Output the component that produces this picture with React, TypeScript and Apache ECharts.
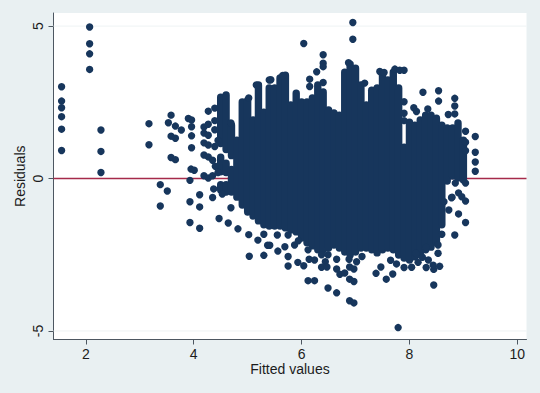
import React, { useEffect, useRef } from "react";
import * as echarts from "echarts";

const xTicks = [2, 4, 6, 8, 10];
const yTicks = [-5, 0, 5];
const gridLevels = [-5, 5];

// Separate points: [fitted, residual]
const leftPoints = [
  [1.55, 3.01], [1.55, 2.54], [1.55, 2.32], [1.55, 2.03], [1.55, 1.62], [1.55, 0.92],
  [2.07, 4.97], [2.07, 4.42], [2.07, 4.09], [2.07, 3.58],
  [2.28, 1.59], [2.28, 0.89], [2.28, 0.2],
  [3.17, 1.8], [3.17, 1.11], [3.38, -0.2], [3.38, -0.9], [3.51, -0.41],
  [3.58, 2.08], [3.53, 1.83], [3.66, 1.72], [3.77, 1.59], [3.58, 1.39], [3.66, 1.32],
  [3.58, 0.69], [3.66, 0.62], [3.9, 1.97], [3.96, 1.92], [3.96, 1.7], [3.96, 1.4], [3.96, 1.01],
  [3.95, 0.31], [4.01, 0.27], [3.93, -0.06], [4.11, -0.53], [3.93, -0.76], [4.11, -0.93],
  [3.93, -1.44], [4.11, -1.63], [4.19, 0.09], [4.27, 0.02], [4.35, 0.09], [4.37, -0.34],
  [4.35, -0.62], [4.47, -1.31], [4.64, -1.46], [4.82, -1.65], [4.69, -0.96], [4.53, -0.51],
  [4.19, 1.69], [4.27, 1.78], [4.19, 1.49], [4.27, 1.42], [4.19, 1.17], [4.27, 1.1],
  [4.19, 0.77], [4.27, 0.71], [4.39, 1.05], [4.35, 0.6], [4.4, 0.4], [4.27, 2.21], [4.39, 2.31],
  [4.39, 1.6], [4.39, 1.9], [4.45, 0.2], [4.45, 1.25], [4.69, 1.82],
];
const topPoints = [
  [6.95, 5.12], [6.95, 4.57], [6.04, 4.43], [6.4, 4.06], [6.4, 3.78], [6.4, 3.67],
  [5.02, 2.64], [5.16, 3.07], [5.4, 3.23], [5.43, 3.24], [5.65, 3.38], [6.15, 3.26], [6.15, 3.02],
  [6.28, 3.5], [6.4, 3.15], [6.87, 3.8], [7.17, 3.13], [7.45, 3.51], [7.53, 3.48],
  [7.73, 3.59], [7.82, 3.55], [7.9, 3.55], [7.9, 2.52], [7.9, 2.14], [7.9, 1.9],
  [8.08, 2.32], [8.13, 2.2], [8.25, 2.83], [8.34, 2.28], [8.54, 2.88], [8.54, 2.54],
  [8.84, 2.63], [8.84, 2.38], [8.84, 2.12], [8.72, 2.1],
];
const rightPoints = [
  [9.22, 1.38], [9.22, 0.86], [9.22, 0.54], [9.22, 0.24], [9.04, 1.55], [9.04, 1.19], [9.04, 0.91],
  [9.04, -0.15], [8.85, -0.15], [8.91, -0.47], [8.97, -0.6], [8.79, -0.61], [9.04, -0.74],
  [8.91, -1.16], [8.78, -0.63], [8.73, -1.03], [8.64, -0.76], [9.04, -1.44], [8.84, -1.85], [8.6, -1.83],
];
const bottomPoints = [
  [5.02, -1.84], [5.19, -2.02], [5.03, -2.55], [5.3, -2.52], [5.37, -2.19], [5.3, -1.83],
  [5.41, -2.19], [5.55, -1.85], [5.69, -2.24], [5.75, -1.85], [5.87, -2.18], [5.94, -2.04], [6.12, -2.34],
  [5.56, -2.38], [5.75, -2.56], [5.75, -2.87], [5.93, -2.75], [6.04, -2.86], [6.14, -2.65], [6.24, -2.67],
  [6.37, -2.5], [6.49, -2.5], [6.44, -2.73], [6.37, -2.91], [6.47, -2.9], [6.65, -2.65], [6.65, -2.97],
  [6.71, -3.14], [6.8, -3.1], [6.89, -2.9], [6.97, -2.97], [6.88, -2.65], [7.02, -2.73], [7.12, -2.56],
  [6.12, -3.35], [6.24, -3.35], [6.49, -3.59], [6.65, -3.75], [6.89, -3.3], [6.97, -3.38],
  [6.89, -4.01], [6.97, -4.08], [7.38, -3.11], [7.47, -2.9], [7.57, -3.3], [7.69, -3.13],
  [7.65, -2.68], [7.76, -2.8], [7.9, -2.92], [8.04, -2.91], [8.16, -2.75], [8.24, -2.58],
  [8.35, -2.67], [8.31, -2.92], [8.45, -2.98], [8.44, -2.84], [8.56, -2.88], [8.53, -2.45],
  [8.53, -2.18], [8.12, -2.45], [8.31, -2.26], [8.45, -3.49], [7.79, -4.89],
];

// Solid mass of overlapping points, column by column: [fitted, lowest, highest]
const massColumns = [
  [4.5, 1.15, 2.67], [4.5, 0.22, 0.7], [4.5, -0.38, -0.2],
  [4.6, 0.95, 2.74], [4.6, 0.2, 0.5], [4.6, -0.44, -0.2],
  [4.7, 0.75, 1.75], [4.7, -0.44, 0.3], [4.8, -0.61, 1.26],
  [4.9, -0.87, 2.51], [5.0, -1.1, 2.57], [5.1, -1.23, 1.92], [5.2, -1.39, 3.07],
  [5.3, -1.52, 2.18], [5.4, -1.56, 2.97], [5.5, -1.56, 2.97], [5.6, -1.56, 3.3],
  [5.7, -1.62, 3.39], [5.8, -1.69, 2.41], [5.9, -1.75, 2.8], [6.0, -1.95, 2.51],
  [6.1, -2.11, 2.51], [6.2, -2.21, 2.64], [6.3, -2.34, 3.07], [6.4, -2.34, 2.84],
  [6.5, -2.28, 2.25], [6.6, -2.18, 2.15], [6.7, -2.28, 2.08], [6.8, -2.41, 3.49],
  [6.9, -2.51, 3.75], [7.0, -2.41, 3.62], [7.1, -2.28, 3.07], [7.2, -2.28, 2.41],
  [7.3, -2.34, 2.9], [7.4, -2.44, 2.97], [7.5, -2.34, 3.39], [7.6, -2.28, 3.23],
  [7.7, -2.34, 3.49], [7.8, -2.51, 2.97], [7.9, -2.61, 1.03], [8.0, -2.67, 1.85],
  [8.1, -2.57, 1.75], [8.2, -2.51, 1.92], [8.3, -2.34, 2.08], [8.4, -2.25, 2.08],
  [8.5, -2.11, 1.98], [8.6, -1.52, 1.75], [8.7, -0.08, 1.66], [8.8, 0.08, 1.66],
  [8.9, 0.02, 1.82], [9.0, -0.05, 1.26],
];

const NAVY = "#17365c";
const MAROON = "#a52a4a";
const BG = "#e9f0f2";
const AXIS = "#4d5761";
const INK = "#1c1c1c";
const FONT = "'Liberation Sans', Arial, sans-serif";
const DOT = 7.4;

export default function App() {
  const ref = useRef<HTMLDivElement>(null);
  useEffect(() => {
    const chart = echarts.init(ref.current!, undefined, { renderer: "svg" });
    const axisCommon = {
      axisLine: { show: true, onZero: false, lineStyle: { color: AXIS, width: 1 } },
      splitLine: { show: false },
      nameLocation: "middle" as const,
      nameMoveOverlap: false,
    };
    chart.setOption({
      animation: false,
      backgroundColor: BG,
      grid: { left: 53.5, top: 13, width: 473, height: 326.5, backgroundColor: "#ffffff", show: true, borderWidth: 0 },
      xAxis: {
        ...axisCommon,
        type: "value",
        min: 1.4,
        max: 10.17,
        name: "Fitted values",
        nameGap: 22,
        nameTextStyle: { color: INK, fontSize: 14, fontFamily: FONT },
        axisTick: { show: true, length: 5, lineStyle: { color: AXIS }, customValues: xTicks },
        axisLabel: { color: INK, fontSize: 14, fontFamily: FONT, margin: 7, customValues: xTicks },
      },
      yAxis: {
        ...axisCommon,
        type: "value",
        min: -5.28,
        max: 5.43,
        name: "Residuals",
        nameGap: 27,
        nameTextStyle: { color: INK, fontSize: 14, fontFamily: FONT },
        axisTick: { show: true, length: 5, lineStyle: { color: AXIS }, customValues: yTicks },
        axisLabel: { color: INK, fontSize: 14, fontFamily: FONT, rotate: 90, margin: 9, customValues: yTicks, align: "center", verticalAlign: "bottom" },
      },
      series: [
        ...gridLevels.map((v) => ({
          type: "line",
          silent: true,
          symbol: "none",
          z: 1,
          data: [[1.4, v], [10.17, v]],
          lineStyle: { color: "#eef3f4", width: 1 },
        })),
        {
          type: "line",
          silent: true,
          symbol: "none",
          z: 2,
          data: [[1.4, 0], [10.17, 0]],
          lineStyle: { color: MAROON, width: 1.5 },
        },
        {
          type: "custom",
          silent: true,
          z: 3,
          data: massColumns,
          encode: { x: 0, y: [1, 2] },
          renderItem: (_p: any, api: any) => {
            const lo = api.coord([api.value(0), api.value(1)]);
            const hi = api.coord([api.value(0), api.value(2)]);
            return {
              type: "rect",
              shape: { x: lo[0] - DOT / 2, y: hi[1] - DOT / 2, width: DOT, height: lo[1] - hi[1] + DOT, r: DOT / 2 },
              style: { fill: NAVY },
            };
          },
        },
        {
          type: "scatter",
          silent: true,
          z: 4,
          symbol: "circle",
          symbolSize: DOT,
          itemStyle: { color: NAVY, opacity: 1 },
          data: [...leftPoints, ...topPoints, ...rightPoints, ...bottomPoints],
        },
      ],
    });
    return () => chart.dispose();
  }, []);
  return <div ref={ref} style={{ position: "fixed", left: 0, top: 0, width: 540, height: 393 }} />;
}
